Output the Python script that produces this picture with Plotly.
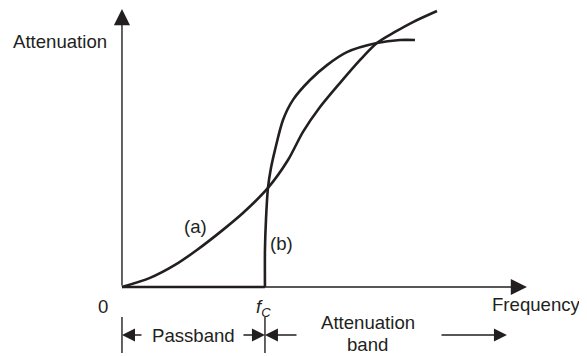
"""Attenuation vs frequency sketch: curve (a) gradual, curve (b) sharp cutoff at fc."""
import plotly.graph_objects as go

# frequency in units of the cutoff fc, attenuation in % of the largest value drawn
a_freq = [0, 0.196, 0.371, 0.524, 0.706, 0.846, 1.021, 1.161, 1.266, 1.385,
          1.524, 1.664, 1.783, 1.909, 2.035, 2.203]
a_atten = [0, 3.3, 8.0, 13.4, 20.7, 26.8, 35.9, 46.0, 56.2, 65.2,
           73.9, 82.2, 88.4, 92.4, 96.0, 100.0]

b_pass_freq = [0, 1.0]
b_pass_atten = [0, 0]
b_freq = [1.0, 1.0, 1.007, 1.021, 1.042, 1.07, 1.126, 1.196, 1.315, 1.434,
          1.573, 1.783, 1.944, 2.049]
b_atten = [0, 13.4, 24.3, 35.9, 43.1, 49.6, 60.5, 67.8, 75.0, 80.4,
           85.1, 88.4, 89.5, 89.5]

fc = 1.0
x_end = 2.832
y_end = 100.7

INK = "#231f20"
FONT = "Liberation Sans, Arial, Helvetica, sans-serif"

fig = go.Figure()

# axes drawn as arrows
axis_arrows = [
    dict(x=0, y=y_end, ax=0, ay=0),
    dict(x=x_end, y=0, ax=0, ay=0),
]
annotations = []
for arr in axis_arrows:
    annotations.append(dict(
        xref="x", yref="y", axref="x", ayref="y", text="", showarrow=True,
        arrowhead=2, arrowsize=2.3, arrowwidth=1.4, arrowcolor=INK, **arr,
    ))

fig.add_trace(go.Scatter(x=a_freq, y=a_atten, mode="lines",
                         line=dict(color=INK, width=2.6, shape="spline", smoothing=0.8)))
fig.add_trace(go.Scatter(x=b_pass_freq, y=b_pass_atten, mode="lines",
                         line=dict(color=INK, width=2.6)))
fig.add_trace(go.Scatter(x=b_freq, y=b_atten, mode="lines",
                         line=dict(color=INK, width=2.6, shape="spline", smoothing=0.8)))

# band markers below the axis
band_y = -17.4
for xv in [0, fc]:
    fig.add_shape(type="line", x0=xv, x1=xv, y0=-10.9, y1=-23.9,
                  line=dict(color=INK, width=1.4))

band_arrows = [
    dict(x=0, ax=0.147),
    dict(x=fc, ax=0.839),
    dict(x=fc, ax=1.231),
    dict(x=2.692, ax=2.224),
]
for arr in band_arrows:
    annotations.append(dict(
        xref="x", yref="y", axref="x", ayref="y", text="", showarrow=True,
        y=band_y, ay=band_y, arrowhead=2, arrowsize=2.0, arrowwidth=1.3,
        arrowcolor=INK, **arr,
    ))

labels = [
    ("Attenuation", -0.434, 89.1),
    ("0", -0.133, -7.2),
    ("<i>f</i><sub><i>C</i></sub>", 0.99, -7.6),
    ("Frequency", 2.902, -6.2),
    ("Passband", 0.503, -17.4),
    ("Attenuation", 1.72, -13.0),
    ("band", 1.72, -21.0),
    ("(a)", 0.517, 22.1),
    ("(b)", 1.119, 15.9),
]
for text, xv, yv in labels:
    annotations.append(dict(xref="x", yref="y", x=xv, y=yv, text=text,
                            showarrow=False, font=dict(size=18.6, color=INK, family=FONT)))

# the page body has an 8px margin, so the ranges start 8px into the picture
fig.update_layout(
    width=587,
    height=356,
    margin=dict(l=0, r=0, t=0, b=0),
    paper_bgcolor="white",
    plot_bgcolor="white",
    showlegend=False,
    annotations=annotations,
    xaxis=dict(visible=False, range=[-0.797, 3.308]),
    yaxis=dict(visible=False, range=[-27.9, 101.09]),
)

fig.write_html("out.html")
